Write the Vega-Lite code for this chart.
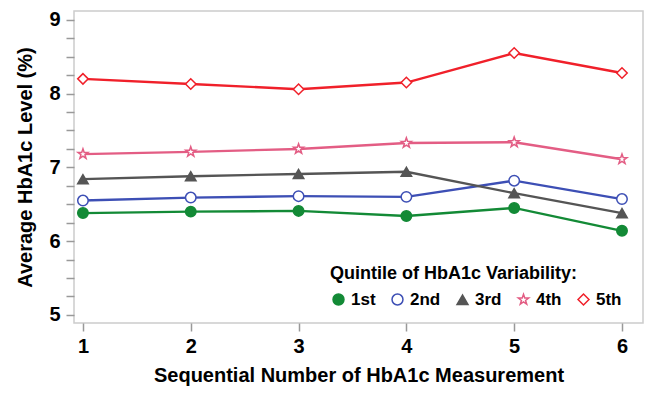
{
  "$schema": "https://vega.github.io/schema/vega-lite/v6.json",
  "width": 569,
  "height": 312,
  "autosize": {"type": "none"},
  "padding": {"left": 74, "top": 11, "right": 7, "bottom": 76},
  "config": {
    "font": "Liberation Sans",
    "view": {"stroke": "#cccccc", "strokeWidth": 1.5},
    "axis": {"grid": false, "domain": false, "tickColor": "#999999", "tickWidth": 1.5, "labelFontWeight": "bold", "labelColor": "#000000", "titleFontWeight": "bold", "titleColor": "#000000"},
    "legend": {"titleFontWeight": "bold", "titleFontSize": 18, "titleColor": "#000000", "titleLimit": 400, "labelFontWeight": "bold", "labelFontSize": 17, "labelColor": "#000000", "symbolSize": 120, "symbolStrokeWidth": 1.5, "columnPadding": 13, "labelOffset": 4, "titlePadding": 8}
  },
  "data": {
    "values": [
      {"m": 1, "q": "1st", "v": 6.38}, {"m": 2, "q": "1st", "v": 6.40}, {"m": 3, "q": "1st", "v": 6.41}, {"m": 4, "q": "1st", "v": 6.34}, {"m": 5, "q": "1st", "v": 6.45}, {"m": 6, "q": "1st", "v": 6.14},
      {"m": 1, "q": "2nd", "v": 6.55}, {"m": 2, "q": "2nd", "v": 6.59}, {"m": 3, "q": "2nd", "v": 6.61}, {"m": 4, "q": "2nd", "v": 6.60}, {"m": 5, "q": "2nd", "v": 6.82}, {"m": 6, "q": "2nd", "v": 6.57},
      {"m": 1, "q": "3rd", "v": 6.84}, {"m": 2, "q": "3rd", "v": 6.88}, {"m": 3, "q": "3rd", "v": 6.91}, {"m": 4, "q": "3rd", "v": 6.94}, {"m": 5, "q": "3rd", "v": 6.65}, {"m": 6, "q": "3rd", "v": 6.38},
      {"m": 1, "q": "4th", "v": 7.18}, {"m": 2, "q": "4th", "v": 7.21}, {"m": 3, "q": "4th", "v": 7.25}, {"m": 4, "q": "4th", "v": 7.33}, {"m": 5, "q": "4th", "v": 7.34}, {"m": 6, "q": "4th", "v": 7.11},
      {"m": 1, "q": "5th", "v": 8.20}, {"m": 2, "q": "5th", "v": 8.13}, {"m": 3, "q": "5th", "v": 8.06}, {"m": 4, "q": "5th", "v": 8.15}, {"m": 5, "q": "5th", "v": 8.55}, {"m": 6, "q": "5th", "v": 8.28}
    ]
  },
  "encoding": {
    "x": {
      "field": "m", "type": "quantitative",
      "scale": {"domain": [0.917, 6.195], "nice": false, "zero": false},
      "axis": {"values": [1, 2, 3, 4, 5, 6], "format": "d", "labelFontSize": 20, "tickSize": 8, "labelPadding": 5, "title": "Sequential Number of HbA1c Measurement", "titleFontSize": 20, "titlePadding": 9}
    },
    "y": {
      "field": "v", "type": "quantitative",
      "scale": {"domain": [4.89, 9.12], "nice": false, "zero": false},
      "axis": {"values": [5, 5.25, 5.5, 5.75, 6, 6.25, 6.5, 6.75, 7, 7.25, 7.5, 7.75, 8, 8.25, 8.5, 8.75, 9], "labelExpr": "datum.value % 1 == 0 ? format(datum.value, 'd') : ''", "labelFontSize": 20, "tickSize": 8, "labelPadding": 6, "title": "Average HbA1c Level (%)", "titleFontSize": 20, "titlePadding": 13}
    },
    "stroke": {"field": "q", "type": "nominal", "title": "Quintile of HbA1c Variability:", "scale": {"domain": ["1st", "2nd", "3rd", "4th", "5th"], "range": ["#138a36", "#3d4fb5", "#555555", "#e35d84", "#f0202a"]}, "legend": {"orient": "none", "direction": "horizontal", "legendX": 256, "legendY": 254}}
  },
  "layer": [
    {
      "mark": {"type": "line", "strokeWidth": 2.4}
    },
    {
      "mark": {"type": "point", "size": 110, "strokeWidth": 1.5, "opacity": 1},
      "encoding": {
        "fill": {"field": "q", "type": "nominal", "title": "Quintile of HbA1c Variability:", "scale": {"domain": ["1st", "2nd", "3rd", "4th", "5th"], "range": ["#138a36", "#ffffff", "#555555", "#ffffff", "#ffffff"]}, "legend": {"orient": "none", "direction": "horizontal", "legendX": 256, "legendY": 254}},
        "shape": {"field": "q", "type": "nominal", "title": "Quintile of HbA1c Variability:", "scale": {"domain": ["1st", "2nd", "3rd", "4th", "5th"], "range": ["circle", "circle", "triangle-up", "M0,-1L0.235,-0.324L0.951,-0.309L0.38,0.124L0.588,0.809L0,0.4L-0.588,0.809L-0.38,0.124L-0.951,-0.309L-0.235,-0.324Z", "diamond"]}, "legend": {"orient": "none", "direction": "horizontal", "legendX": 256, "legendY": 254}}
      }
    }
  ]
}
